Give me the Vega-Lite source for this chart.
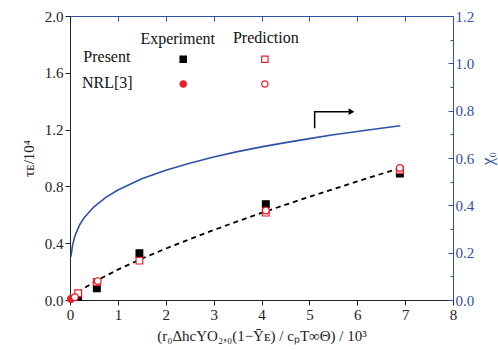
{
  "$schema": "https://vega.github.io/schema/vega-lite/v6.json",
  "width": 383,
  "height": 284,
  "autosize": "none",
  "padding": {"left": 70, "top": 16, "right": 45, "bottom": 50},
  "background": "white",
  "config": {
    "view": {"stroke": null},
    "font": "Liberation Serif",
    "axis": {
      "labelFont": "Liberation Serif",
      "titleFont": "Liberation Serif",
      "labelFontSize": 15,
      "titleFontSize": 15,
      "titleFontWeight": "normal",
      "grid": false,
      "labelColor": "#222",
      "titleColor": "#222",
      "domainColor": "#333",
      "tickColor": "#333",
      "labelOverlap": false,
      "labelFlush": false
    }
  },
  "datasets": {
    "pts": [
      {"s": "Present Experiment", "x": 0.17, "y": 0.02},
      {"s": "Present Experiment", "x": 0.56, "y": 0.082},
      {"s": "Present Experiment", "x": 1.45, "y": 0.329},
      {"s": "Present Experiment", "x": 4.09, "y": 0.675},
      {"s": "Present Experiment", "x": 6.89, "y": 0.89},
      {"s": "Present Prediction", "x": 0.17, "y": 0.047},
      {"s": "Present Prediction", "x": 0.56, "y": 0.127},
      {"s": "Present Prediction", "x": 1.45, "y": 0.277},
      {"s": "Present Prediction", "x": 4.09, "y": 0.615},
      {"s": "Present Prediction", "x": 6.89, "y": 0.915},
      {"s": "NRL Experiment", "x": 0.02, "y": 0.007},
      {"s": "NRL Prediction", "x": 0.1, "y": 0.02},
      {"s": "NRL Prediction", "x": 0.58, "y": 0.133},
      {"s": "NRL Prediction", "x": 4.09, "y": 0.63},
      {"s": "NRL Prediction", "x": 6.89, "y": 0.93}
    ],
    "legsym": [
      {"s": "Present Experiment", "x": 2.365, "y": 1.695},
      {"s": "Present Prediction", "x": 4.07, "y": 1.695},
      {"s": "NRL Experiment", "x": 2.365, "y": 1.521},
      {"s": "NRL Prediction", "x": 4.07, "y": 1.521}
    ],
    "legtext": [
      {"t": "Experiment", "x": 2.25, "y": 1.803},
      {"t": "Prediction", "x": 4.09, "y": 1.812},
      {"t": "Present", "x": 0.77, "y": 1.678},
      {"t": "NRL[3]", "x": 0.78, "y": 1.491}
    ],
    "fit": [
      {"x": 0.02, "y": 0.01},
      {"x": 0.2, "y": 0.063},
      {"x": 0.5, "y": 0.126},
      {"x": 1, "y": 0.214},
      {"x": 1.5, "y": 0.291},
      {"x": 2, "y": 0.362},
      {"x": 3, "y": 0.493},
      {"x": 4, "y": 0.614},
      {"x": 5, "y": 0.727},
      {"x": 6, "y": 0.835},
      {"x": 6.9, "y": 0.93}
    ],
    "arrow": [
      {"o": 1, "x": 5.11, "y": 1.21},
      {"o": 2, "x": 5.11, "y": 1.326},
      {"o": 3, "x": 5.84, "y": 1.326}
    ],
    "arrowhead": [
      {"x": 5.88, "y": 1.326}
    ],
    "chi": [
      {"x": 0.02, "chi": 0.183},
      {"x": 0.05, "chi": 0.228},
      {"x": 0.1, "chi": 0.269},
      {"x": 0.2, "chi": 0.317},
      {"x": 0.3, "chi": 0.349},
      {"x": 0.5, "chi": 0.394},
      {"x": 0.75, "chi": 0.434},
      {"x": 1, "chi": 0.465},
      {"x": 1.5, "chi": 0.512},
      {"x": 2, "chi": 0.548},
      {"x": 2.5, "chi": 0.578},
      {"x": 3, "chi": 0.604},
      {"x": 3.5, "chi": 0.627},
      {"x": 4, "chi": 0.647},
      {"x": 4.5, "chi": 0.665},
      {"x": 5, "chi": 0.682},
      {"x": 5.5, "chi": 0.698},
      {"x": 6, "chi": 0.712},
      {"x": 6.5, "chi": 0.726},
      {"x": 6.9, "chi": 0.736}
    ]
  },
  "layer": [
    {
      "layer": [
        {
          "data": {"name": "fit"},
          "mark": {"type": "line", "color": "#000", "strokeWidth": 1.8, "strokeDash": [5, 4]},
          "encoding": {
            "x": {
              "field": "x", "type": "quantitative",
              "scale": {"domain": [0, 8], "nice": false},
              "axis": {
                "orient": "bottom",
                "title": "(r₀ΔhcYO₂,₀(1−Ȳᴇ) / cₚT∞Θ) / 10³",
                "values": [0, 0.5, 1, 1.5, 2, 2.5, 3, 3.5, 4, 4.5, 5, 5.5, 6, 6.5, 7, 7.5, 8],
                "labelExpr": "round(datum.value*2)%2==0 ? format(datum.value,'d') : ''",
                "tickSize": {"condition": {"test": "round(datum.value*2)%2==0", "value": 5}, "value": 3},
                "labelOverlap": false,
                "labelPadding": 2,
                "titlePadding": 6,
                "domainColor": "#222",
                "tickColor": "#222"
              }
            },
            "y": {
              "field": "y", "type": "quantitative",
              "scale": {"domain": [0, 2], "nice": false},
              "axis": {
                "orient": "left",
                "title": "τᴇ/10⁴",
                "values": [0, 0.2, 0.4, 0.6, 0.8, 1, 1.2, 1.4, 1.6, 1.8, 2],
                "format": ".1f",
                "tickSize": 5,
                "labelOverlap": false,
                "labelPadding": 2,
                "titlePadding": 8,
                "domainColor": "#222",
                "tickColor": "#222"
              }
            }
          }
        },
        {
          "data": {"name": "pts"},
          "mark": {"type": "point", "size": 45, "strokeWidth": 1.2, "opacity": 1},
          "encoding": {
            "x": {"field": "x", "type": "quantitative"},
            "y": {"field": "y", "type": "quantitative"},
            "shape": {"field": "s", "type": "nominal", "legend": null,
              "scale": {"domain": ["Present Experiment", "Present Prediction", "NRL Experiment", "NRL Prediction"], "range": ["square", "square", "circle", "circle"]}},
            "fill": {"field": "s", "type": "nominal", "legend": null,
              "scale": {"domain": ["Present Experiment", "Present Prediction", "NRL Experiment", "NRL Prediction"], "range": ["#000000", "#ffffff", "#e8202a", "#ffffff"]}},
            "stroke": {"field": "s", "type": "nominal", "legend": null,
              "scale": {"domain": ["Present Experiment", "Present Prediction", "NRL Experiment", "NRL Prediction"], "range": ["#000000", "#e8202a", "#e8202a", "#e8202a"]}}
          }
        },
        {
          "data": {"name": "legsym"},
          "mark": {"type": "point", "size": 40, "strokeWidth": 1.2, "opacity": 1},
          "encoding": {
            "x": {"field": "x", "type": "quantitative"},
            "y": {"field": "y", "type": "quantitative"},
            "shape": {"field": "s", "type": "nominal", "legend": null},
            "fill": {"field": "s", "type": "nominal", "legend": null},
            "stroke": {"field": "s", "type": "nominal", "legend": null}
          }
        },
        {
          "data": {"name": "legtext"},
          "mark": {"type": "text", "font": "Liberation Serif", "fontSize": 16, "align": "center", "baseline": "alphabetic", "color": "#111"},
          "encoding": {
            "x": {"field": "x", "type": "quantitative"},
            "y": {"field": "y", "type": "quantitative"},
            "text": {"field": "t"}
          }
        },
        {
          "data": {"name": "arrow"},
          "mark": {"type": "line", "color": "#000", "strokeWidth": 1.5},
          "encoding": {
            "x": {"field": "x", "type": "quantitative"},
            "y": {"field": "y", "type": "quantitative"},
            "order": {"field": "o"}
          }
        },
        {
          "data": {"name": "arrowhead"},
          "mark": {"type": "point", "shape": "triangle-right", "size": 45, "filled": true, "color": "#000", "opacity": 1},
          "encoding": {
            "x": {"field": "x", "type": "quantitative"},
            "y": {"field": "y", "type": "quantitative"}
          }
        }
      ]
    },
    {
      "data": {"name": "chi"},
      "mark": {"type": "line", "color": "#3050a8", "strokeWidth": 1.6},
      "encoding": {
        "x": {
          "field": "x", "type": "quantitative",
          "scale": {"domain": [0, 8], "nice": false},
          "axis": {
            "orient": "top",
            "labels": false,
            "title": null,
            "values": [0, 1, 2, 3, 4, 5, 6, 7, 8],
            "tickSize": -5,
            "domainColor": "#3050a8",
            "tickColor": "#3050a8"
          }
        },
        "y": {
          "field": "chi", "type": "quantitative",
          "scale": {"domain": [0, 1.2], "nice": false},
          "axis": {
            "orient": "right",
            "title": "χ₀",
            "titleAngle": 270,
            "values": [0, 0.1, 0.2, 0.3, 0.4, 0.5, 0.6, 0.7, 0.8, 0.9, 1, 1.1, 1.2],
            "labelExpr": "round(datum.value*10)%2==0 ? format(datum.value,'.1f') : ''",
            "tickSize": {"condition": {"test": "round(datum.value*10)%2==0", "value": -5}, "value": -3},
            "labelOverlap": false,
            "labelPadding": 7,
            "titlePadding": 23,
            "domainColor": "#3050a8",
            "tickColor": "#3050a8",
            "labelColor": "#3050a8",
            "titleColor": "#3050a8",
            "titleFontSize": 17
          }
        }
      }
    }
  ],
  "resolve": {"scale": {"y": "independent"}, "axis": {"x": "independent", "y": "independent"}}
}
